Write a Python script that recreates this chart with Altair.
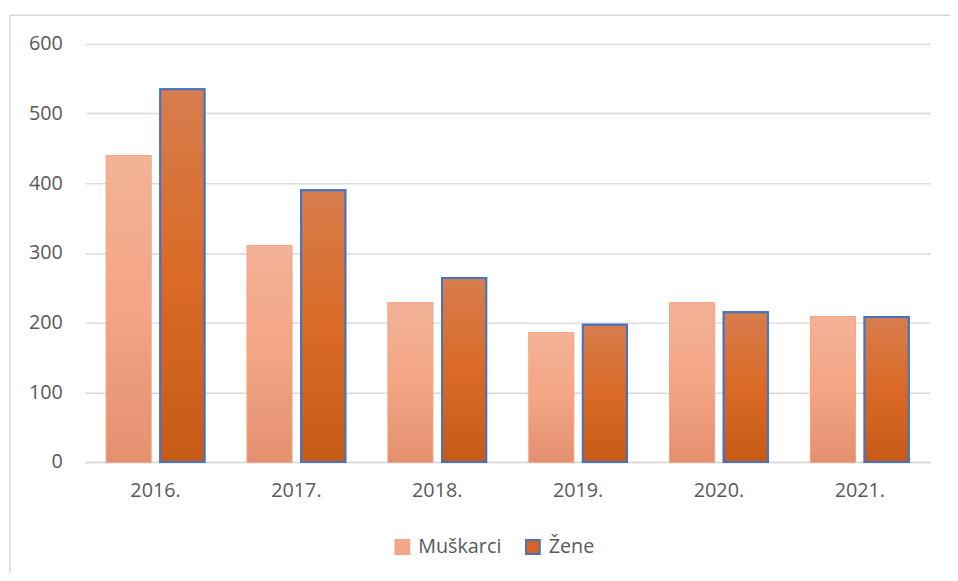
import altair as alt
import pandas as pd

years = ["2016.", "2017.", "2018.", "2019.", "2020.", "2021."]
muskarci = [439, 310, 228, 185, 228, 208]
zene = [535, 390, 264, 197, 215, 208]
series = ["Muškarci", "Žene"]

rows = []
for y, m, z in zip(years, muskarci, zene):
    rows.append({"godina": y, "serija": "Muškarci", "vrijednost": m})
    rows.append({"godina": y, "serija": "Žene", "vrijednost": z})
df = pd.DataFrame(rows)

FONT = "Open Sans"
TXT = "#595959"
GRID = "#d9d9d9"

grad_m = alt.Gradient(
    gradient="linear", x1=0, y1=0, x2=0, y2=1,
    stops=[alt.GradientStop(color="#f2b297", offset=0),
           alt.GradientStop(color="#f4a584", offset=0.5),
           alt.GradientStop(color="#e3906f", offset=1)],
)
grad_z = alt.Gradient(
    gradient="linear", x1=0, y1=0, x2=0, y2=1,
    stops=[alt.GradientStop(color="#d77d4e", offset=0),
           alt.GradientStop(color="#da6a25", offset=0.5),
           alt.GradientStop(color="#c65b15", offset=1)],
)

x_enc = alt.X("godina:N", sort=years, title=None,
              scale=alt.Scale(paddingInner=0.305, paddingOuter=0.1525),
              axis=alt.Axis(labelAngle=0, labelFont=FONT, labelFontSize=20,
                            labelColor=TXT, labelPadding=19, ticks=False,
                            domainColor=GRID, domainWidth=1.5, grid=False))
xo_enc = alt.XOffset("serija:N", sort=series,
                     scale=alt.Scale(paddingInner=0.177, paddingOuter=0))
y_enc = alt.Y("vrijednost:Q", title=None,
              scale=alt.Scale(domain=[0, 600]),
              axis=alt.Axis(values=[0, 100, 200, 300, 400, 500, 600],
                            labelFont=FONT, labelFontSize=20, labelColor=TXT,
                            labelPadding=23, ticks=False, domain=False,
                            gridColor=GRID, gridWidth=1.5))

legend_cfg = dict(orient="none", legendX=311, legendY=499,
                  direction="horizontal", symbolType="square",
                  symbolSize=196, symbolStrokeWidth=2,
                  labelFont=FONT, labelFontSize=20,
                  labelColor=TXT, labelOffset=6, columnPadding=20)

base = alt.Chart(df)

legend_layer = base.mark_bar(strokeWidth=2).encode(
    x=x_enc, xOffset=xo_enc, y=y_enc,
    color=alt.Color("serija:N", sort=series, title=None,
                    scale=alt.Scale(domain=series, range=["#f2a886", "#d8641f"]),
                    legend=alt.Legend(**legend_cfg)),
    stroke=alt.Stroke("serija:N", sort=series, title=None,
                      scale=alt.Scale(domain=series, range=["#f2a886", "#4472c4"]),
                      legend=alt.Legend(**legend_cfg)),
)

m_layer = base.transform_filter(alt.datum.serija == "Muškarci").mark_bar(
    fill=grad_m, strokeWidth=0
).encode(x=x_enc, xOffset=xo_enc, y=y_enc)

z_layer = base.transform_filter(alt.datum.serija == "Žene").mark_bar(
    fill=grad_z, stroke="#4472c4", strokeWidth=2
).encode(x=x_enc, xOffset=xo_enc, y=y_enc)

border = alt.Chart(pd.DataFrame({"a": [0]})).mark_rect(
    fill=None, stroke=GRID, strokeWidth=1.5
).encode(x=alt.value(-76), x2=alt.value(880), y=alt.value(-29), y2=alt.value(545))

chart = alt.layer(border, legend_layer, m_layer, z_layer).resolve_scale(
    x="shared"
).properties(
    width=855, height=423,
    autosize=alt.AutoSizeParams(type="none"),
    padding={"left": 78, "top": 33, "right": 20, "bottom": 109},
).configure_view(stroke=None)

chart.save("out.html", embed_options={"renderer": "svg", "actions": False})
